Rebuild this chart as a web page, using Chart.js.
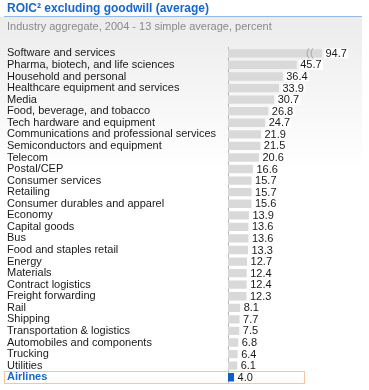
<!DOCTYPE html>
<html>
<head>
<meta charset="utf-8">
<script src="https://cdn.jsdelivr.net/npm/chart.js@4/dist/chart.umd.min.js"></script>
<style>
  html, body { margin: 0; padding: 0; background: #fff; }
  #wrap { width: 369px; height: 390px; position: relative; }
</style>
</head>
<body>
<div id="wrap"><canvas id="c" width="369" height="390"></canvas></div>
<script>
const titleText = 'ROIC\u00B2 excluding goodwill (average)';
const subtitleText = 'Industry aggregate, 2004 - 13 simple average, percent';
const categories = [
  'Software and services',
  'Pharma, biotech, and life sciences',
  'Household and personal',
  'Healthcare equipment and services',
  'Media',
  'Food, beverage, and tobacco',
  'Tech hardware and equipment',
  'Communications and professional services',
  'Semiconductors and equipment',
  'Telecom',
  'Postal/CEP',
  'Consumer services',
  'Retailing',
  'Consumer durables and apparel',
  'Economy',
  'Capital goods',
  'Bus',
  'Food and staples retail',
  'Energy',
  'Materials',
  'Contract logistics',
  'Freight forwarding',
  'Rail',
  'Shipping',
  'Transportation & logistics',
  'Automobiles and components',
  'Trucking',
  'Utilities',
  'Airlines'
];
const values = [94.7, 45.7, 36.4, 33.9, 30.7, 26.8, 24.7, 21.9, 21.5, 20.6, 16.6, 15.7, 15.7, 15.6,
  13.9, 13.6, 13.6, 13.3, 12.7, 12.4, 12.4, 12.3, 8.1, 7.7, 7.5, 6.8, 6.4, 6.1, 4.0];
const highlightCategory = 'Airlines';
const brokenCategory = 'Software and services';
const axisMax = 62.5;

const FONT = "'Liberation Sans', Arial, sans-serif";
const hiIndex = categories.indexOf(highlightCategory);
const brokenIndex = categories.indexOf(brokenCategory);

const bgPlugin = {
  id: 'bg',
  beforeDraw(chart) {
    const ctx = chart.ctx;
    ctx.save();
    ctx.fillStyle = '#ffffff';
    ctx.fillRect(0, 0, chart.width, chart.height);
    const g = ctx.createLinearGradient(0, 17, 0, 170);
    g.addColorStop(0, '#ececec');
    g.addColorStop(1, '#ffffff');
    ctx.fillStyle = g;
    ctx.fillRect(0, 17, 362, 153);
    ctx.strokeStyle = '#8dbbe8';
    ctx.lineWidth = 1;
    ctx.beginPath();
    ctx.moveTo(4, 16.5);
    ctx.lineTo(362, 16.5);
    ctx.stroke();
    ctx.restore();
  },
  afterDatasetsDraw(chart) {
    const ctx = chart.ctx;
    const meta = chart.getDatasetMeta(0);
    const area = chart.chartArea;
    const yScale = chart.scales.y;
    ctx.save();
    // highlight box
    const hy = yScale.getPixelForValue(hiIndex);
    ctx.strokeStyle = '#f5c4a0';
    ctx.lineWidth = 1;
    ctx.strokeRect(4.5, Math.round(hy - 6) + 0.5, 300, 12);
    ctx.font = '11px ' + FONT;
    ctx.textBaseline = 'middle';
    meta.data.forEach((bar, i) => {
      const endX = Math.min(bar.x, area.right);
      const txt = values[i].toFixed(1);
      const w = ctx.measureText(txt).width;
      const x = endX + 2;
      ctx.fillStyle = '#ffffff';
      ctx.fillRect(x, bar.y - 5, w + 3, 10);
      ctx.fillStyle = '#1a1a1a';
      ctx.fillText(txt, x + 1.5, bar.y + 0.5);
      if (i === brokenIndex) {
        const h = bar.height;
        ctx.strokeStyle = '#9a9a9a';
        ctx.lineWidth = 0.8;
        [area.right - 15, area.right - 11].forEach(bx => {
          ctx.beginPath();
          ctx.moveTo(bx + 2, bar.y - h / 2 - 1);
          ctx.quadraticCurveTo(bx - 2, bar.y, bx + 2, bar.y + h / 2 + 1);
          ctx.stroke();
        });
      }
    });
    ctx.restore();
  }
};

new Chart(document.getElementById('c'), {
  type: 'bar',
  data: {
    labels: categories,
    datasets: [{
      data: values,
      backgroundColor: categories.map(c => c === highlightCategory ? '#0d5fcf' : '#d9d9d9'),
      borderWidth: 0,
      barPercentage: 0.72,
      categoryPercentage: 1.0
    }]
  },
  options: {
    indexAxis: 'y',
    responsive: false,
    animation: false,
    devicePixelRatio: 1,
    layout: { padding: { left: 7, right: 47, top: 0, bottom: 7 } },
    plugins: {
      legend: { display: false },
      tooltip: { enabled: false },
      title: {
        display: true,
        text: titleText,
        align: 'start',
        color: '#1a66c8',
        font: { family: FONT, size: 12, weight: 'bold' },
        padding: { top: 1, bottom: 5 }
      },
      subtitle: {
        display: true,
        text: subtitleText,
        align: 'start',
        color: '#8a8a8a',
        font: { family: FONT, size: 11 },
        padding: { top: 0, bottom: 14 }
      }
    },
    scales: {
      x: {
        display: false,
        min: 0,
        max: axisMax
      },
      y: {
        grid: { display: false },
        border: { display: true, color: '#b5b5b5', width: 1 },
        afterFit(scale) {
          scale.width = 221;
          scale.paddingTop = 0;
          scale.paddingBottom = 0;
        },
        ticks: {
          crossAlign: 'far',
          padding: 8,
          autoSkip: false,
          color: ctx => ctx.index === hiIndex ? '#1a66c8' : '#1a1a1a',
          font: ctx => ({ family: FONT, size: 11, weight: ctx.index === hiIndex ? 'bold' : 'normal' })
        }
      }
    }
  },
  plugins: [bgPlugin]
});
</script>
</body>
</html>
